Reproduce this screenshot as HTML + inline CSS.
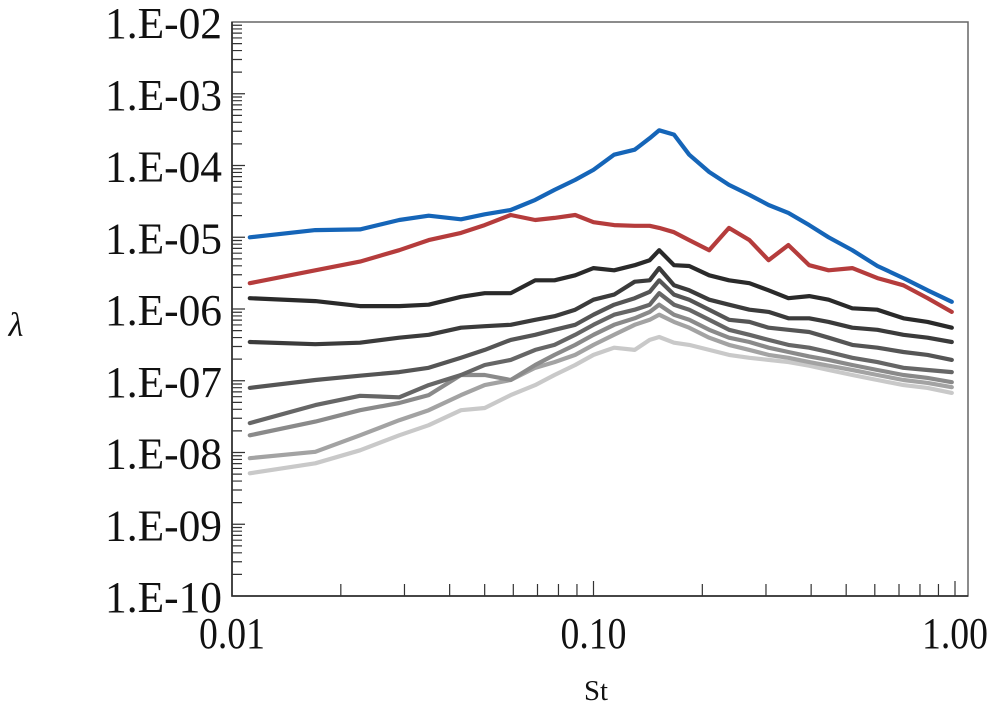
<!DOCTYPE html>
<html><head><meta charset="utf-8"><style>
html,body{margin:0;padding:0;background:#fff;}
svg{display:block;}
text{font-family:"Liberation Serif",serif;fill:#111;}
</style></head><body>
<svg id="chart" width="1004" height="720"></svg>
<script>
const stValues=[0.0112,0.017,0.0226,0.029,0.035,0.043,0.050,0.059,0.069,0.078,0.089,0.100,0.114,0.130,0.143,0.152,0.167,0.184,0.209,0.237,0.27,0.305,0.346,0.395,0.447,0.52,0.61,0.72,0.84,0.98];
const blueLog=[-5.00,-4.90,-4.89,-4.76,-4.70,-4.75,-4.68,-4.62,-4.48,-4.34,-4.20,-4.06,-3.85,-3.78,-3.62,-3.51,-3.57,-3.85,-4.09,-4.27,-4.41,-4.55,-4.66,-4.83,-5.00,-5.18,-5.40,-5.57,-5.74,-5.90];
const redLog=[-5.64,-5.46,-5.34,-5.18,-5.04,-4.94,-4.83,-4.69,-4.76,-4.73,-4.69,-4.79,-4.83,-4.84,-4.84,-4.87,-4.93,-5.04,-5.18,-4.87,-5.04,-5.32,-5.11,-5.39,-5.46,-5.43,-5.57,-5.67,-5.85,-6.04];
const gray1Log=[-5.85,-5.89,-5.96,-5.96,-5.94,-5.83,-5.78,-5.78,-5.60,-5.60,-5.53,-5.43,-5.46,-5.39,-5.32,-5.18,-5.39,-5.40,-5.53,-5.60,-5.64,-5.74,-5.85,-5.82,-5.87,-5.99,-6.01,-6.13,-6.18,-6.26];
const gray2Log=[-6.46,-6.49,-6.47,-6.40,-6.36,-6.26,-6.24,-6.22,-6.15,-6.10,-6.01,-5.87,-5.80,-5.62,-5.60,-5.43,-5.67,-5.74,-5.87,-5.94,-6.01,-6.04,-6.13,-6.13,-6.18,-6.26,-6.29,-6.36,-6.40,-6.46];
const gray3Log=[-7.10,-6.99,-6.93,-6.88,-6.82,-6.68,-6.57,-6.43,-6.36,-6.29,-6.22,-6.08,-5.94,-5.85,-5.76,-5.60,-5.80,-5.87,-6.01,-6.15,-6.18,-6.26,-6.29,-6.32,-6.40,-6.50,-6.54,-6.60,-6.64,-6.71];
const gray4Log=[-7.59,-7.34,-7.21,-7.23,-7.06,-6.92,-6.78,-6.71,-6.57,-6.50,-6.36,-6.22,-6.08,-6.01,-5.94,-5.78,-5.94,-6.01,-6.15,-6.29,-6.36,-6.43,-6.50,-6.54,-6.60,-6.68,-6.74,-6.82,-6.85,-6.88];
const gray5Log=[-7.76,-7.57,-7.41,-7.31,-7.20,-6.92,-6.92,-6.99,-6.78,-6.64,-6.50,-6.36,-6.22,-6.13,-6.04,-5.94,-6.08,-6.15,-6.29,-6.40,-6.46,-6.54,-6.60,-6.66,-6.71,-6.78,-6.85,-6.92,-6.96,-7.02];
const gray6Log=[-8.08,-7.99,-7.76,-7.55,-7.41,-7.20,-7.06,-6.99,-6.82,-6.74,-6.64,-6.50,-6.36,-6.22,-6.15,-6.08,-6.18,-6.26,-6.40,-6.50,-6.57,-6.64,-6.68,-6.74,-6.79,-6.85,-6.92,-6.99,-7.03,-7.09];
const gray7Log=[-8.29,-8.15,-7.97,-7.76,-7.62,-7.41,-7.38,-7.20,-7.06,-6.92,-6.78,-6.64,-6.54,-6.57,-6.43,-6.39,-6.47,-6.50,-6.57,-6.64,-6.68,-6.71,-6.74,-6.79,-6.85,-6.92,-6.99,-7.06,-7.10,-7.17];
const yTickLabels=["1.E-02","1.E-03","1.E-04","1.E-05","1.E-06","1.E-07","1.E-08","1.E-09","1.E-10"];
const xTickLabels=["0.01","0.10","1.00"];

const NS="http://www.w3.org/2000/svg";
const svg=document.getElementById('chart');
const L=232,R=955,T=22,B=596;
const xPx=v=>L+(R-L)*(Math.log10(v)+2)/2;
const yPx=lg=>T+(B-T)*(-2-lg)/8;
function mk(tag,attrs,parent){const e=document.createElementNS(NS,tag);for(const k in attrs)e.setAttribute(k,attrs[k]);(parent||svg).appendChild(e);return e;}

const frame=mk('path',{d:`M${L},${T}H${R+13}V${B}H${L}Z`,fill:'none',stroke:'#666','stroke-width':1.5});


const axes=mk('path',{d:`M${L},${T}V${B}H${R+13}`,fill:'none',stroke:'#222','stroke-width':1.5});



let yt='';
for(let d=0;d<8;d++){for(let m=1;m<10;m++){const lg=-10+d+Math.log10(m);const y=yPx(lg);yt+=`M${L},${y}h${m===1?13:10}`;}}
const yTicks=mk('path',{d:yt,stroke:'#333','stroke-width':1.2});


yTickLabels.forEach((s,i)=>{const t=mk('text',{x:222,y:yPx(-2-i)+16,'text-anchor':'end','font-size':44,textLength:117,lengthAdjust:'spacingAndGlyphs'});t.textContent=s;

});

let xt='';
for(let d=0;d<2;d++){for(let m=2;m<=10;m++){const x=xPx(Math.pow(10,-2+d)*m);xt+=`M${x},${B}v${m===10?-15:-12}`;}}
const xTicks=mk('path',{d:xt,stroke:'#333','stroke-width':1.2});


xTickLabels.forEach((s,i)=>{const t=mk('text',{x:xPx(Math.pow(10,-2+i))-33,y:648,'font-size':44,textLength:66,lengthAdjust:'spacingAndGlyphs'});t.textContent=s;

});

const xt2=mk('text',{x:596,y:700,'text-anchor':'middle','font-size':28,textLength:24,lengthAdjust:'spacingAndGlyphs'});xt2.textContent='St';


const yt2=mk('text',{x:16,y:336,'text-anchor':'middle','font-size':34,'font-style':'italic'});yt2.textContent='λ';



const series=[[gray7Log,'#c9c9c9'],[gray6Log,'#a3a3a3'],[gray5Log,'#8a8a8a'],[gray4Log,'#666666'],[gray3Log,'#555555'],[gray2Log,'#3b3b3b'],[gray1Log,'#2a2a2a'],[redLog,'#b53c3c'],[blueLog,'#1565b8']];
const names=['series-7','series-6','series-5','series-4','series-3','series-2','series-1','series-red','series-blue'];
series.forEach((s,i)=>{const d=s[0].map((v,j)=>(j?'L':'M')+xPx(stValues[j]).toFixed(1)+','+yPx(v).toFixed(1)).join('');
const p=mk('path',{d:d,fill:'none',stroke:s[1],'stroke-width':4.2,'stroke-linejoin':'round','stroke-linecap':'round'});

});
</script>
</body></html>
